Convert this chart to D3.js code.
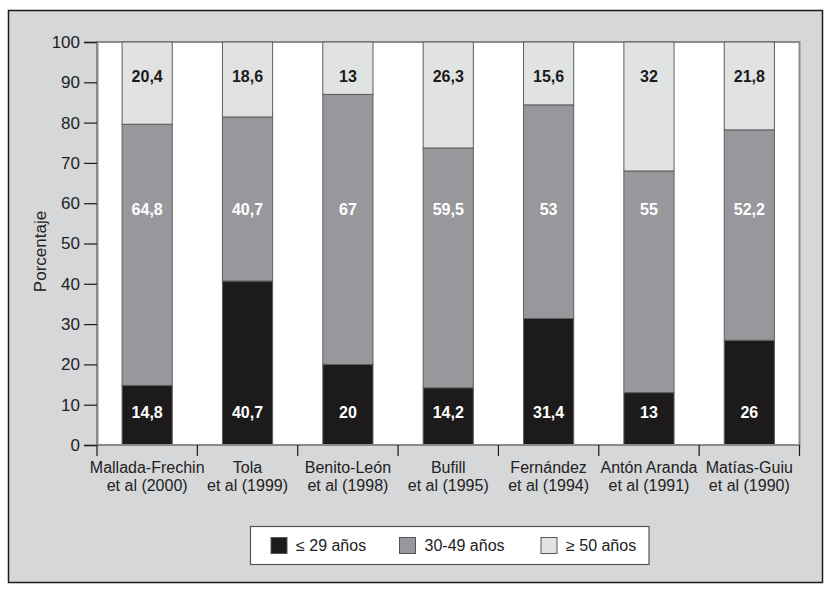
<!DOCTYPE html>
<html><head><meta charset="utf-8">
<script src="https://cdn.jsdelivr.net/npm/d3@7"></script>
<style>
html,body{margin:0;padding:0;background:#fff;}
text{font-family:"Liberation Sans",Arial,sans-serif;}
</style></head>
<body>
<svg id="chart" width="832" height="601"></svg>
<script>
const categories = [
  ["Mallada-Frechin","et al (2000)"],
  ["Tola","et al (1999)"],
  ["Benito-León","et al (1998)"],
  ["Bufill","et al (1995)"],
  ["Fernández","et al (1994)"],
  ["Antón Aranda","et al (1991)"],
  ["Matías-Guiu","et al (1990)"]
];
const young = [14.8, 40.7, 20, 14.2, 31.4, 13, 26];
const middle = [64.8, 40.7, 67, 59.5, 53, 55, 52.2];
const old = [20.4, 18.6, 13, 26.3, 15.6, 32, 21.8];
const youngLabels = ["14,8","40,7","20","14,2","31,4","13","26"];
const middleLabels = ["64,8","40,7","67","59,5","53","55","52,2"];
const oldLabels = ["20,4","18,6","13","26,3","15,6","32","21,8"];
const seriesNames = ["≤ 29 años","30-49 años","≥ 50 años"];
const yTicks = [0,10,20,30,40,50,60,70,80,90,100];

const colors = ["#1c1a1a","#98989c","#e1e2e2"];
const svg = d3.select("#chart");

// background frame
svg.append("rect").attr("x",8.5).attr("y",10.5).attr("width",814).attr("height",572)
  .attr("fill","#d6d7d9").attr("stroke","#1a1a1a").attr("stroke-width",1.5);

const L=97, R=799.5, T=42, B=445;
const x = d3.scaleBand().domain(d3.range(categories.length)).range([L,R]).paddingInner(0).paddingOuter(0);
const y = d3.scaleLinear().domain([0,100]).range([B,T]);

svg.append("rect").attr("x",L).attr("y",T).attr("width",R-L).attr("height",B-T)
  .attr("fill","#fff").attr("stroke","#8a8a8c").attr("stroke-width",2);

const rows = categories.map((c,i)=>({i, vals:[young[i],middle[i],old[i]]}));
const stack = d3.stack().keys([0,1,2]).value((d,k)=>d.vals[k]);
const series = stack(rows);

const bw = x.bandwidth()*0.5;
series.forEach((s,k)=>{
  svg.append("g").selectAll("rect").data(s).join("rect")
    .attr("x",d=>x(d.data.i)+(x.bandwidth()-bw)/2)
    .attr("y",d=>y(d[1]))
    .attr("width",bw)
    .attr("height",d=>y(d[0])-y(d[1]))
    .attr("fill",colors[k])
    .attr("stroke","#5e5e60").attr("stroke-width",1);
});

// value labels at fixed heights
const labelSets = [[youngLabels,8.2,"#fff"],[middleLabels,58.5,"#fff"],[oldLabels,91.6,"#1a1a1a"]];
labelSets.forEach(([labs,pos,col])=>{
  svg.append("g").selectAll("text").data(labs).join("text")
    .attr("x",(d,i)=>x(i)+x.bandwidth()/2)
    .attr("y",y(pos))
    .attr("dy","0.36em")
    .attr("text-anchor","middle")
    .style("font-family","'Liberation Sans Narrow','Arial Narrow',sans-serif")
    .style("font-weight","bold").style("font-size","16px")
    .attr("fill",col).text(d=>d);
});

// y axis
const yAxis = svg.append("g").attr("transform",`translate(${L},0)`)
  .call(d3.axisLeft(y).tickValues(yTicks).tickSize(13).tickPadding(4));
yAxis.select(".domain").attr("stroke","#8a8a8c").attr("stroke-width",2);
yAxis.selectAll(".tick line").attr("stroke","#1a1a1a").attr("stroke-width",1.2);
yAxis.selectAll(".tick text").style("font-size","17px").attr("fill","#222");

// x axis
const xAxisG = svg.append("g").attr("transform",`translate(0,${B})`);
xAxisG.append("line").attr("x1",L).attr("x2",R).attr("stroke","#8a8a8c").attr("stroke-width",2);
const bounds = d3.range(categories.length+1).map(i=> i<categories.length ? x(i) : x(i-1)+x.bandwidth());
xAxisG.selectAll("line.tk").data(bounds).join("line").attr("class","tk")
  .attr("x1",d=>d).attr("x2",d=>d).attr("y1",0).attr("y2",11)
  .attr("stroke","#1a1a1a").attr("stroke-width",1.2);
const xl = xAxisG.selectAll("text").data(categories).join("text")
  .attr("text-anchor","middle").attr("fill","#222").style("font-size","16px")
  .attr("transform",(d,i)=>`translate(${x(i)+x.bandwidth()/2},0)`);
xl.append("tspan").attr("x",0).attr("y",28).text(d=>d[0]);
xl.append("tspan").attr("x",0).attr("y",46).text(d=>d[1]);

// y title
svg.append("text").attr("transform",`translate(45.5,${(T+B)/2 + 8}) rotate(-90)`)
  .attr("text-anchor","middle").attr("fill","#222").style("font-size","17px").text("Porcentaje");

// legend
const lg = svg.append("g");
lg.append("rect").attr("x",250.5).attr("y",526.5).attr("width",398.5).attr("height",38)
  .attr("fill","#fff").attr("stroke","#555").attr("stroke-width",1.2);
const legX = [271,399.5,541];
seriesNames.forEach((n,k)=>{
  lg.append("rect").attr("x",legX[k]).attr("y",537.5).attr("width",16).attr("height",16)
    .attr("fill",colors[k]).attr("stroke","#555").attr("stroke-width",1);
  lg.append("text").attr("x",legX[k]+25).attr("y",545.5).attr("dy","0.36em")
    .attr("fill","#222").style("font-size","16px").text(n);
});
</script>
</body></html>
